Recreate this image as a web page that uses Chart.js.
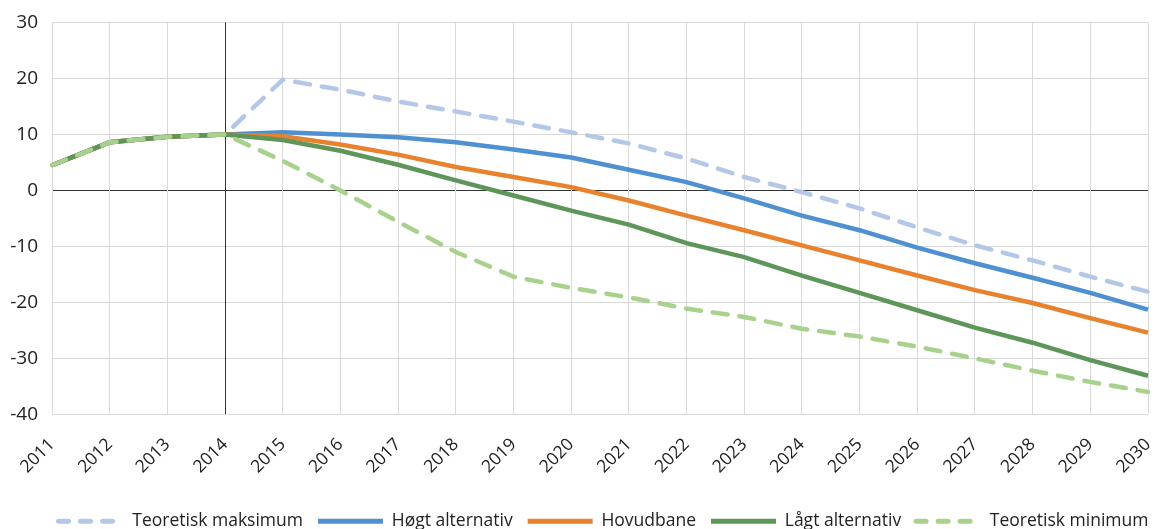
<!DOCTYPE html>
<html>
<head>
<meta charset="utf-8">
<script src="https://cdn.jsdelivr.net/npm/chart.js@4"></script>
<style>
  html, body { margin: 0; padding: 0; background: #fff; }
  #wrap { width: 1167px; height: 529px; }
</style>
</head>
<body>
<div id="wrap"><canvas id="chart"></canvas></div>
<script>
const years = ['2011','2012','2013','2014','2015','2016','2017','2018','2019','2020',
               '2021','2022','2023','2024','2025','2026','2027','2028','2029','2030'];
const history = [4.5, 8.6, 9.6, 10.0];
const teoMaks = history.concat([19.8, 18.0, 15.9, 14.1, 12.3, 10.4, 8.4, 5.7, 2.4, -0.3, -3.2, -6.6, -9.8, -12.5, -15.4, -18.1]);
const hogt    = history.concat([10.4, 10.0, 9.5, 8.6, 7.3, 5.9, 3.7, 1.5, -1.4, -4.5, -7.1, -10.2, -13.0, -15.6, -18.3, -21.3]);
const hovud   = history.concat([9.7, 8.2, 6.4, 4.2, 2.4, 0.6, -1.8, -4.5, -7.1, -9.8, -12.5, -15.2, -17.8, -20.1, -22.8, -25.4]);
const lagt    = history.concat([9.0, 7.1, 4.6, 1.8, -0.9, -3.6, -6.1, -9.4, -11.9, -15.2, -18.3, -21.4, -24.5, -27.2, -30.3, -33.1]);
const teoMin  = history.concat([5.3, 0.0, -5.6, -11.0, -15.4, -17.4, -19.1, -21.1, -22.6, -24.7, -26.1, -27.9, -30.0, -32.2, -34.2, -36.0]);

Chart.defaults.font.family = '"Open Sans", sans-serif';
Chart.defaults.color = '#222';

// order: lower value is drawn on top (minimum ends up over the history part)
const line = (label, data, color, dashed, order) => ({
    label: label,
    data: data,
    order: order,
    borderColor: color,
    backgroundColor: color,
    borderWidth: 4.5,
    borderDash: dashed ? [15, 12] : [],
    borderCapStyle: dashed ? 'round' : 'butt',
    pointRadius: 0,
    pointHoverRadius: 0,
    tension: 0,
    fill: false
});

// nudge the legend row a little to the right, like the original
const shiftLegend = {
    id: 'shiftLegend',
    afterLayout(chart) {
        chart.legend.left += 20;
        chart.legend.right += 20;
    }
};

new Chart(document.getElementById('chart'), {
    type: 'line',
    data: {
        labels: years,
        datasets: [
            line('Teoretisk maksimum', teoMaks, '#b4c7e7', true, 4),
            line('Høgt alternativ', hogt, '#4f91d0', false, 3),
            line('Hovudbane', hovud, '#e9822e', false, 2),
            line('Lågt alternativ', lagt, '#5e9558', false, 1),
            line('Teoretisk minimum', teoMin, '#a9d18e', true, 0)
        ]
    },
    plugins: [shiftLegend],
    options: {
        responsive: true,
        maintainAspectRatio: false,
        animation: false,
        layout: {
            padding: { left: 0, right: 0, top: 6, bottom: -11 }
        },
        plugins: {
            tooltip: { enabled: false },
            legend: {
                position: 'bottom',
                labels: {
                    usePointStyle: true,
                    pointStyle: 'line',
                    pointStyleWidth: 65,
                    padding: 15,
                    font: { size: 17.5 },
                    color: '#222',
                    sort: (a, b) => a.datasetIndex - b.datasetIndex,
                    generateLabels: chart => {
                        const items = Chart.defaults.plugins.legend.labels.generateLabels(chart);
                        items.forEach(it => {
                            const ds = chart.data.datasets[it.datasetIndex];
                            it.lineWidth = 5;
                            it.strokeStyle = ds.borderColor;
                            if (ds.borderDash.length) {
                                it.lineDash = [10, 12];
                                it.lineCap = 'round';
                            }
                        });
                        return items;
                    }
                }
            }
        },
        scales: {
            y: {
                min: -40,
                max: 30,
                ticks: { stepSize: 10, font: { size: 19, lineHeight: 0.9 }, padding: 14 },
                border: { display: false },
                grid: {
                    color: ctx => ctx.tick && ctx.tick.value === 0 ? '#333' : '#d9d9d9',
                    lineWidth: 1,
                    drawTicks: false
                },
                afterFit: scale => {
                    scale.width = 52;
                }
            },
            x: {
                offset: false,
                ticks: { font: { size: 17.5 }, minRotation: 45, maxRotation: 45, padding: 20 },
                border: { display: false },
                grid: {
                    color: ctx => ctx.index === 3 ? '#333' : '#d9d9d9',
                    lineWidth: 1,
                    drawTicks: false
                },
                afterFit: scale => {
                    scale.paddingLeft = 52;
                    scale.paddingRight = 19;
                }
            }
        }
    }
});
</script>
</body>
</html>
